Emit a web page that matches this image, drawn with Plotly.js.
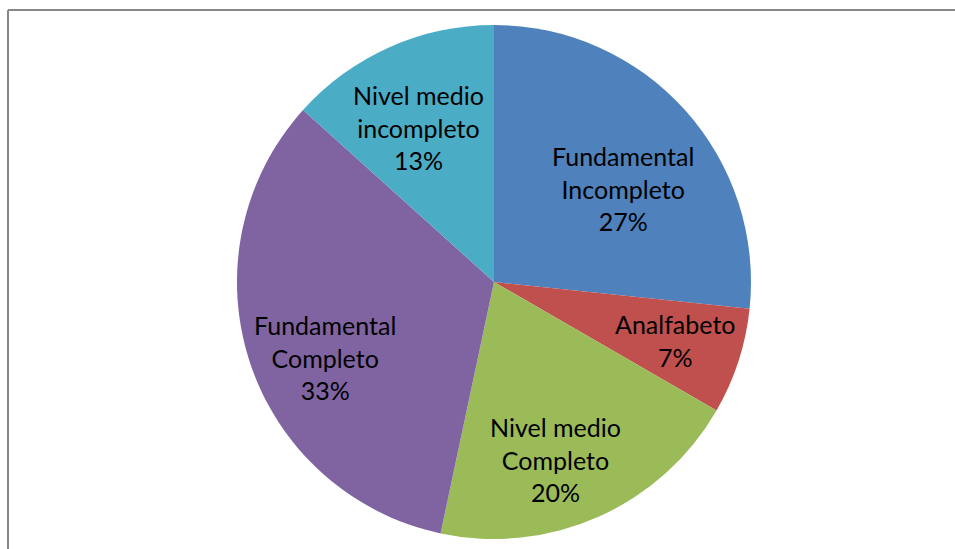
<!DOCTYPE html>
<html>
<head>
<meta charset="utf-8">
<script src="https://cdn.plot.ly/plotly-3.0.1.min.js"></script>
<style>html,body{margin:0;padding:0;background:#fff;}#chart{width:955px;height:549px;}</style>
</head>
<body>
<div id="chart"></div>
<script>
// ---- data ----
const categories = ["Fundamental<br>Incompleto", "Analfabeto", "Nivel medio<br>Completo", "Fundamental<br>Completo", "Nivel medio<br>incompleto"];
const values = [4, 1, 3, 5, 2];
const colors = ["#4F81BD", "#C0504D", "#9BBB59", "#8064A2", "#4BACC6"];

// ---- label placement style (fraction of radius, angular shift in degrees) ----
const labelRadius = [0.62, 0.74, 0.73, 0.72, 0.67];
const labelShift = [6, 0, 5, -6, -2];

const W = 955, H = 549;
const cx = 494, cy = 282, r = 257;
const fontFamily = "Lato, 'Noto Sans', sans-serif";

const total = values.reduce((a, b) => a + b, 0);

const trace = {
  type: "pie",
  labels: categories,
  values: values,
  sort: false,
  direction: "clockwise",
  rotation: 0,
  marker: {colors: colors, line: {width: 0}},
  textinfo: "none",
  hoverinfo: "label+percent",
  showlegend: false,
  domain: {x: [(cx - r) / W, (cx + r) / W], y: [(H - cy - r) / H, (H - cy + r) / H]}
};

// data labels placed from the cumulative values
const annotations = [];
let cum = 0;
values.forEach((v, i) => {
  const mid = (cum + v / 2) / total * 360 + labelShift[i];
  cum += v;
  const a = mid * Math.PI / 180;
  const px = cx + labelRadius[i] * r * Math.sin(a);
  const py = cy - labelRadius[i] * r * Math.cos(a);
  annotations.push({
    xref: "paper", yref: "paper",
    x: px / W, y: 1 - py / H,
    xanchor: "center", yanchor: "middle",
    showarrow: false, align: "center",
    text: categories[i] + "<br>" + Math.round(v / total * 100) + "%",
    font: {family: fontFamily, size: 25, color: "#000"}
  });
});

const layout = {
  width: W, height: H,
  margin: {l: 0, r: 0, t: 0, b: 0},
  paper_bgcolor: "#fff",
  showlegend: false,
  annotations: annotations,
  shapes: [
    {type: "line", xref: "paper", yref: "paper", x0: 8 / W, x1: 1, y0: (H - 10) / H, y1: (H - 10) / H, line: {color: "#888888", width: 2}},
    {type: "line", xref: "paper", yref: "paper", x0: 8 / W, x1: 8 / W, y0: 0, y1: (H - 10) / H, line: {color: "#888888", width: 2}}
  ]
};

Plotly.newPlot("chart", [trace], layout, {displayModeBar: false, staticPlot: true});
</script>
</body>
</html>
